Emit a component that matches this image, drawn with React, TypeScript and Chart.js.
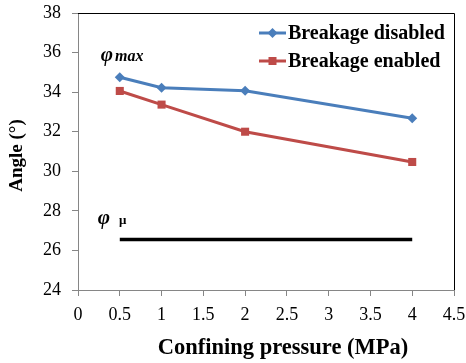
import React, { useEffect, useRef } from "react";
import { Chart, registerables } from "chart.js";

Chart.register(...registerables);

const pressures = [0.5, 1, 2, 4];
const disabledAngles = [34.75, 34.22, 34.07, 32.68];
const enabledAngles = [34.06, 33.37, 32.0, 30.47];
const muAngle = 26.55;
const muRange = [0.5, 4];
const seriesNames = ["Breakage disabled", "Breakage enabled"];
const xTitle = "Confining pressure (MPa)";
const yTitle = "Angle (°)";
const xTicks = { min: 0, max: 4.5, step: 0.5 };
const yTicks = { min: 24, max: 38, step: 2 };

const BLUE = "#4a7ebb";
const RED = "#be4b48";
const AXIS = "#868686";
const SERIF = "'Liberation Serif', 'Times New Roman', serif";

const framePlugin = {
  id: "frame",
  afterDatasetsDraw(chart: any) {
    const { ctx, chartArea } = chart;
    const { left, right, top, bottom } = chartArea;
    ctx.save();
    // top and right border
    ctx.strokeStyle = "#000";
    ctx.lineWidth = 1;
    ctx.beginPath();
    ctx.moveTo(left, top + 0.5);
    ctx.lineTo(Math.round(right) + 0.5, top + 0.5);
    ctx.lineTo(Math.round(right) + 0.5, bottom);
    ctx.stroke();

    // legend
    const items = [
      { label: seriesNames[0], color: BLUE, style: "diamond" },
      { label: seriesNames[1], color: RED, style: "square" },
    ];
    const textX = right - 166;
    items.forEach((it, i) => {
      const y = top + 20 + i * 28;
      ctx.strokeStyle = it.color;
      ctx.lineWidth = 3;
      ctx.beginPath();
      ctx.moveTo(textX - 29, y);
      ctx.lineTo(textX - 2, y);
      ctx.stroke();
      const cx = textX - 15.5;
      ctx.fillStyle = it.color;
      ctx.beginPath();
      if (it.style === "diamond") {
        ctx.moveTo(cx, y - 5);
        ctx.lineTo(cx + 5, y);
        ctx.lineTo(cx, y + 5);
        ctx.lineTo(cx - 5, y);
        ctx.closePath();
        ctx.fill();
      } else {
        ctx.fillRect(cx - 4, y - 4, 8, 8);
      }
      ctx.fillStyle = "#000";
      ctx.font = `bold 20px ${SERIF}`;
      ctx.textBaseline = "middle";
      ctx.textAlign = "left";
      ctx.fillText(it.label, textX, y + 1);
    });

    // axis titles
    ctx.fillStyle = "#000";
    ctx.font = `bold 22.5px ${SERIF}`;
    ctx.textAlign = "center";
    ctx.textBaseline = "middle";
    ctx.fillText(xTitle, (left + right) / 2 + 17, 348);
    ctx.save();
    ctx.translate(17.5, (top + bottom) / 2 + 4);
    ctx.rotate(-Math.PI / 2);
    ctx.font = `bold 19px ${SERIF}`;
    ctx.fillText(yTitle, 0, 0);
    ctx.restore();

    // phi annotations
    const xs = chart.scales.x;
    const ys = chart.scales.y;
    const px = xs.getPixelForValue(pressures[0]);
    ctx.fillStyle = "#000";
    ctx.textBaseline = "alphabetic";
    ctx.textAlign = "left";
    // phi max
    const yMax = ys.getPixelForValue(disabledAngles[0]) - 16;
    ctx.font = `italic bold 21px ${SERIF}`;
    ctx.fillText("φ", px - 19, yMax);
    const w1 = ctx.measureText("φ").width;
    ctx.font = `italic bold 16px ${SERIF}`;
    ctx.fillText("max", px - 19 + w1 + 2, yMax);
    // phi mu
    const yMu = ys.getPixelForValue(muAngle) - 16;
    ctx.font = `italic bold 21px ${SERIF}`;
    ctx.fillText("φ", px - 22, yMu);
    const w2 = ctx.measureText("φ").width;
    ctx.font = `bold 13px ${SERIF}`;
    ctx.fillText("μ", px - 22 + w2 + 9, yMu);
    ctx.restore();
  },
};

export default function App() {
  const ref = useRef<HTMLCanvasElement | null>(null);
  useEffect(() => {
    if (!ref.current) return;
    const chart = new Chart(ref.current, {
      type: "line",
      data: {
        datasets: [
          {
            label: seriesNames[0],
            data: pressures.map((x, i) => ({ x, y: disabledAngles[i] })),
            borderColor: BLUE,
            backgroundColor: BLUE,
            borderWidth: 3,
            pointStyle: "rectRot",
            pointRadius: 5,
            pointBorderWidth: 0,
            tension: 0,
          },
          {
            label: seriesNames[1],
            data: pressures.map((x, i) => ({ x, y: enabledAngles[i] })),
            borderColor: RED,
            backgroundColor: RED,
            borderWidth: 3,
            pointStyle: "rect",
            pointRadius: 5.7,
            pointBorderWidth: 0,
            tension: 0,
          },
          {
            label: "mu",
            data: muRange.map((x) => ({ x, y: muAngle })),
            borderColor: "#000",
            backgroundColor: "#000",
            borderWidth: 3.5,
            pointRadius: 0,
            tension: 0,
          },
        ],
      },
      options: {
        animation: false,
        responsive: false,
        devicePixelRatio: 1,
        layout: { padding: { left: 0, top: 13, right: 12, bottom: 0 } },
        plugins: {
          legend: { display: false },
          tooltip: { enabled: false },
        },
        scales: {
          x: {
            type: "linear",
            min: xTicks.min,
            max: xTicks.max,
            afterFit: (s: any) => {
              s.height = 73;
              s.paddingLeft = 0;
              s.paddingRight = 0;
            },
            ticks: {
              stepSize: xTicks.step,
              color: "#000",
              font: { family: SERIF, size: 18 },
              padding: 8,
              maxRotation: 0,
              callback: (v: any) => String(Math.round(Number(v) * 10) / 10),
            },
            grid: {
              display: true,
              drawOnChartArea: false,
              drawTicks: true,
              tickLength: 6,
              color: AXIS,
            },
            border: { display: true, color: AXIS, width: 1 },
            title: { display: false },
          },
          y: {
            min: yTicks.min,
            max: yTicks.max,
            afterFit: (s: any) => {
              s.width = 78;
              s.paddingTop = 0;
              s.paddingBottom = 0;
            },
            ticks: {
              stepSize: yTicks.step,
              color: "#000",
              font: { family: SERIF, size: 18 },
              padding: 11,
            },
            grid: {
              display: true,
              drawOnChartArea: false,
              drawTicks: true,
              tickLength: 6,
              color: AXIS,
            },
            border: { display: true, color: AXIS, width: 1 },
            title: { display: false },
          },
        },
      },
      plugins: [framePlugin],
    } as any);
    return () => chart.destroy();
  }, []);
  return (
    <div style={{ position: "absolute", left: 0, top: 0, width: 466, height: 363 }}>
      <canvas ref={ref} width={466} height={363} style={{ width: 466, height: 363 }} />
    </div>
  );
}
